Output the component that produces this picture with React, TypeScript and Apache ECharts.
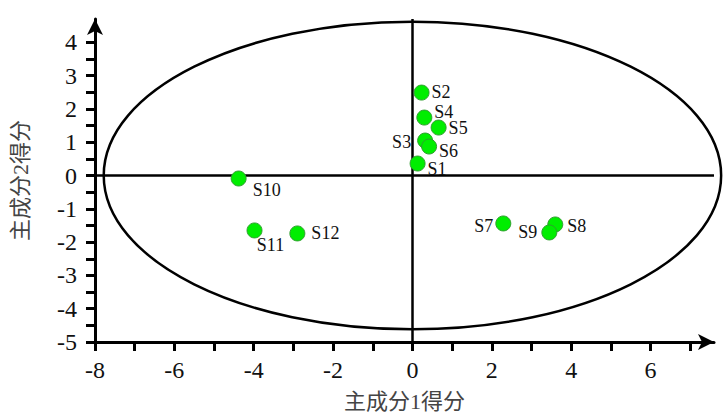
import React, { useEffect, useRef } from "react";
import * as echarts from "echarts";

const sampleNames = ["S1", "S2", "S3", "S4", "S5", "S6", "S7", "S8", "S9", "S10", "S11", "S12"];
const pc1Scores = [0.13, 0.23, 0.32, 0.3, 0.66, 0.42, 2.29, 3.6, 3.45, -4.38, -3.98, -2.9];
const pc2Scores = [0.36, 2.49, 1.05, 1.74, 1.44, 0.87, -1.44, -1.47, -1.71, -0.09, -1.65, -1.74];
const labelPositions = ["right", "right", "left", "right", "right", "right", "left", "right", "left", "right", "bottom", "right"];
const labelOffsets = [[-2, 5], [-2, -1], [-2, 1], [-2, -6], [-2, 0], [-2, 4], [2, 3], [0, 2], [0, 0], [2, 11], [16, -4], [2, 0]];
const xTickValues = [-8, -7, -6, -5, -4, -3, -2, -1, 0, 1, 2, 3, 4, 5, 6, 7];
const xLabelValues = [-8, -6, -4, -2, 0, 2, 4, 6];
const yTickValues = [-5, -4.5, -4, -3.5, -3, -2.5, -2, -1.5, -1, -0.5, 0, 0.5, 1, 1.5, 2, 2.5, 3, 3.5, 4];
const yLabelValues = [-5, -4, -3, -2, -1, 0, 1, 2, 3, 4];
const ellipseSpec = [0, 0, 7.78, 4.62];

export default function App() {
  const ref = useRef<HTMLDivElement>(null);
  useEffect(() => {
    if (!ref.current) return;
    const chart = echarts.init(ref.current, null, { renderer: "svg" });
    const serif = "Liberation Serif, Noto Sans CJK SC, serif";
    const points = pc1Scores.map((x, i) => ({
      value: [x, pc2Scores[i]],
      name: sampleNames[i],
      label: { position: labelPositions[i], offset: labelOffsets[i] },
    }));
    chart.setOption({
      animation: false,
      grid: { left: 95, right: 9, top: 19, bottom: 74, outerBoundsMode: "none", containLabel: false },
      xAxis: {
        type: "value",
        min: -8,
        max: 7.6,
        splitLine: { show: false },
        axisLine: {
          onZero: false,
          symbol: ["none", "arrow"],
          symbolSize: [12, 16],
          lineStyle: { color: "#000", width: 3 },
        },
        axisTick: { customValues: xTickValues, length: 9, lineStyle: { color: "#000", width: 3 } },
        axisLabel: {
          customValues: xLabelValues,
          margin: 16,
          color: "#111",
          fontFamily: serif,
          fontSize: 24,
        },
        name: "主成分1得分",
        nameLocation: "middle",
        nameGap: 48,
        nameTextStyle: { color: "#444", fontSize: 22, fontFamily: serif },
      },
      yAxis: {
        type: "value",
        min: -5,
        max: 4.7,
        splitLine: { show: false },
        axisLine: {
          onZero: false,
          symbol: ["none", "arrow"],
          symbolSize: [12, 16],
          lineStyle: { color: "#000", width: 3 },
        },
        axisTick: { customValues: yTickValues, length: 9, lineStyle: { color: "#000", width: 3 } },
        axisLabel: {
          customValues: yLabelValues,
          margin: 18,
          color: "#111",
          fontFamily: serif,
          fontSize: 24,
        },
        name: "主成分2得分",
        nameLocation: "middle",
        nameGap: 64,
        nameRotate: 90,
        nameTextStyle: { color: "#444", fontSize: 22, fontFamily: serif },
      },
      series: [
        {
          type: "custom",
          silent: true,
          clip: false,
          z: 1,
          data: [ellipseSpec],
          renderItem: (params: any, api: any) => {
            const c = api.coord([api.value(0), api.value(1)]);
            const s = api.size([api.value(2), api.value(3)]);
            return {
              type: "ellipse",
              shape: { cx: c[0], cy: c[1], rx: s[0], ry: s[1] },
              style: { fill: "none", stroke: "#000", lineWidth: 2.5 },
            };
          },
        },
        {
          type: "scatter",
          z: 3,
          symbol: "circle",
          symbolSize: 15,
          itemStyle: { color: "#00ee00", borderColor: "#2e9e2e", borderWidth: 1, opacity: 1 },
          label: {
            show: true,
            formatter: "{b}",
            fontFamily: serif,
            fontSize: 18,
            lineHeight: 14,
            color: "#111",
            distance: 4,
          },
          data: points,
          markLine: {
            silent: true,
            symbol: ["none", "none"],
            label: { show: false },
            lineStyle: { color: "#000", width: 2.5, type: "solid" },
            z: 2,
            data: [
              [{ coord: [0, -5] }, { coord: [0, 4.7] }],
              [{ coord: [-8, 0] }, { coord: [7.6, 0] }],
            ],
          },
        },
      ],
    });
    return () => chart.dispose();
  }, []);
  return <div ref={ref} style={{ width: 723, height: 416, position: "absolute", left: 0, top: 0 }} />;
}
